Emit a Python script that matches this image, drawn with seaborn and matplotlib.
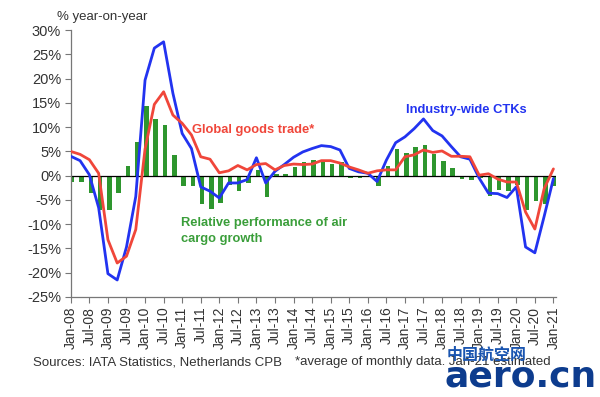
import numpy as np
import pandas as pd
from matplotlib import pyplot as plt
import seaborn as sns

# quarterly data, Q1 2008 .. Q1 2021 (% year-on-year)
ctk_growth = [4.0, 3.1, 0.2, -6.6, -20.2, -21.5, -14.7, -4.3, 19.7, 26.3, 27.6, 17.0, 8.7,
              5.6, -2.3, -3.2, -4.6, -1.5, -1.5, -0.8, 3.7, -1.5, 0.9, 2.3, 3.8, 4.9,
              5.6, 6.2, 6.0, 5.3, 1.5, 0.8, 0.5, -1.2, 3.2, 6.8, 8.0, 9.7, 11.7, 9.3,
              8.2, 6.0, 3.9, 3.4, -0.5, -3.6, -3.7, -4.5, -2.3, -14.7, -15.9, -8.4, -0.6]
goods_trade = [5.0, 4.4, 3.3, 0.5, -13.2, -18.0, -16.6, -11.1, 5.5, 14.7, 17.3, 12.5, 10.8,
               8.4, 3.9, 3.4, 0.6, 1.0, 2.1, 1.2, 2.3, 2.5, 1.2, 2.1, 2.4, 2.3,
               2.4, 3.1, 3.1, 2.6, 1.8, 1.2, 0.5, 1.0, 1.2, 1.2, 3.9, 4.3, 5.3, 4.8,
               5.1, 4.0, 4.0, 3.9, 0.1, 0.4, -0.7, -1.3, -1.3, -7.5, -11.0, -2.7, 1.4]
relative_perf = [-1.3, -1.4, -3.6, -7.1, -7.0, -3.6, 1.9, 6.9, 14.3, 11.7, 10.4, 4.2, -2.2,
                 -2.2, -5.8, -6.9, -5.6, -2.0, -3.2, -1.5, 1.2, -4.4, 0.3, 0.3, 1.7, 2.8,
                 3.2, 2.8, 2.5, 2.8, -0.5, -0.5, -0.1, -2.2, 2.1, 5.6, 4.7, 6.0, 6.4, 4.5,
                 3.1, 1.6, -0.6, -0.8, -0.5, -4.1, -3.0, -3.2, -1.9, -7.0, -5.3, -5.8, -2.1]
tick_labels = ["Jan-08", "Jul-08", "Jan-09", "Jul-09", "Jan-10", "Jul-10", "Jan-11", "Jul-11",
               "Jan-12", "Jul-12", "Jan-13", "Jul-13", "Jan-14", "Jul-14", "Jan-15", "Jul-15",
               "Jan-16", "Jul-16", "Jan-17", "Jul-17", "Jan-18", "Jul-18", "Jan-19", "Jul-19",
               "Jan-20", "Jul-20", "Jan-21"]
y_ticks = [30, 25, 20, 15, 10, 5, 0, -5, -10, -15, -20, -25]

df = pd.DataFrame({"q": np.arange(len(ctk_growth)), "ctk": ctk_growth,
                   "goods": goods_trade, "rel": relative_perf})

sns.set_style("white")
plt.rcParams['font.family'] = ['Liberation Sans', 'Noto Sans CJK SC', 'DejaVu Sans']

blue = "#2233f0"
red = "#f0463a"
green = "#2e962e"
grey = "#333333"

fig = plt.figure(figsize=(6, 3.97), dpi=100)
ax = fig.add_axes([0.118, 0.252, 0.809, 0.672])

sns.barplot(x=df["q"] + 0.15, y=df["rel"], native_scale=True, width=0.48, color=green,
            errorbar=None, ax=ax, zorder=1, saturation=1, linewidth=0)
ax.axhline(0, color="black", lw=0.9, zorder=2)
sns.lineplot(x=df["q"], y=df["ctk"], color=blue, lw=2, ax=ax, zorder=3)
sns.lineplot(x=df["q"], y=df["goods"], color=red, lw=2, ax=ax, zorder=4)

ax.set_xlim(0, 52.3)
ax.set_ylim(-25, 30)
ax.set_xticks(np.arange(0, 53, 2))
ax.set_xticklabels(tick_labels, rotation=90, fontsize=10, color=grey)
ax.set_yticks(y_ticks)
ax.set_yticklabels([f"{v}%" for v in y_ticks], fontsize=10.5, color=grey)
ax.set_xlabel("")
ax.set_ylabel("")
ax.tick_params(axis="both", direction="out", length=4, width=0.8, color="#777777",
               bottom=True, left=True, pad=3)
for s in ["top", "right"]:
    ax.spines[s].set_visible(False)
for s in ["left", "bottom"]:
    ax.spines[s].set_color("#777777")
    ax.spines[s].set_linewidth(0.9)

ax.text(13.1, 9.4, "Global goods trade*", color=red, fontsize=9.3, fontweight="bold", va="center")
ax.text(36.1, 13.6, "Industry-wide CTKs", color=blue, fontsize=9.3, fontweight="bold", va="center")
ax.text(11.9, -11.4, "Relative performance of air\ncargo growth", color="#3a9e3a", fontsize=9.3,
        fontweight="bold", va="center", linespacing=1.5)

fig.text(0.095, 0.957, "% year-on-year", fontsize=9.5, color=grey, va="center")
fig.text(0.055, 0.088, "Sources: IATA Statistics, Netherlands CPB", fontsize=9.5, color=grey,
         va="center")
fig.text(0.492, 0.088, "*average of monthly data. Jan-21 estimated", fontsize=9.5, color=grey,
         va="center")

# watermark
fig.text(0.745, 0.106, "中国航空网", fontsize=11.5, fontweight="bold", color="#1a55b0",
         va="center", family=["Noto Sans CJK SC", "DejaVu Sans"])
fig.text(0.74, 0.052, "aero.cn", fontsize=26, fontweight="bold", color="#0d3c8e",
         va="center", family=["DejaVu Sans"])

fig.savefig("out.png", dpi=100)
